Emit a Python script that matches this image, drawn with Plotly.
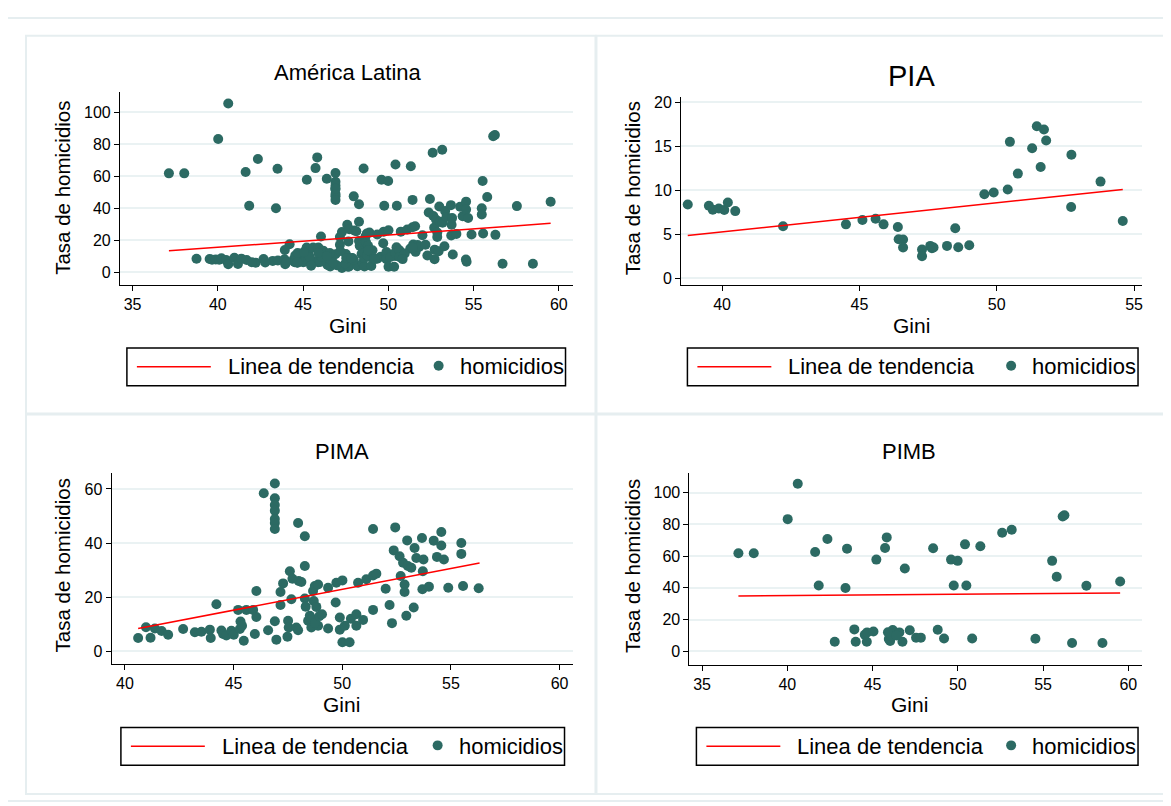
import plotly.graph_objects as go

# ---------------- data ----------------
pia_gini = [38.75, 39.52, 39.66, 39.88, 40.08, 40.21, 40.48, 42.22, 44.51, 45.11,
            45.59, 45.88, 46.40, 46.43, 46.59, 46.59, 47.28, 47.28, 47.58, 47.64,
            47.70, 48.19, 48.49, 48.60, 49.00, 49.55, 49.89, 50.40, 50.48, 50.77,
            51.29, 51.46, 51.72, 51.60, 51.80, 52.72, 52.71, 53.78, 54.59]
pia_hom = [8.38, 8.23, 7.77, 7.92, 7.74, 8.60, 7.62, 5.89, 6.11, 6.60,
           6.75, 6.11, 5.81, 4.42, 4.38, 3.47, 3.25, 2.49, 3.66, 3.40,
           3.47, 3.66, 5.66, 3.51, 3.74, 9.55, 9.74, 10.08, 15.51, 11.89,
           14.79, 17.28, 16.91, 12.64, 15.66, 14.04, 8.08, 10.98, 6.49]

pima_gini = [40.61, 40.97, 41.18, 41.38, 41.69, 41.99, 42.68, 43.22, 43.52, 43.91,
             43.95, 44.21, 44.44, 44.52, 44.67, 44.90, 45.01, 45.21, 45.29, 45.32,
             45.39, 45.47, 45.59, 45.90, 45.98, 46.05, 46.05, 46.39, 46.59, 46.90,
             46.90, 46.90, 46.90, 46.90, 46.90, 46.90, 46.90, 46.97, 47.16, 47.16,
             47.28, 47.48, 47.51, 47.54, 47.59, 47.66, 47.71, 47.89, 47.97, 47.97,
             48.00, 48.12, 48.28, 48.28, 48.28, 48.32, 48.43, 48.51, 48.58, 48.66,
             48.69, 48.74, 48.81, 48.89, 48.89, 48.60, 48.75, 48.95, 49.07, 49.35,
             49.35, 49.70, 49.73, 49.89, 49.89, 50.01, 50.01, 50.12, 50.34, 50.40,
             50.65, 50.65, 50.73, 50.96, 51.11, 51.42, 51.42, 51.42, 51.57, 52.00,
             52.18, 52.29, 52.37, 52.44, 52.64, 52.69, 52.80, 52.87, 52.87, 52.95,
             52.99, 53.02, 53.18, 53.29, 53.33, 53.41, 53.67, 53.69, 53.71, 53.74,
             53.99, 54.21, 54.36, 54.56, 54.56, 54.68, 54.88, 55.48, 55.48, 55.56,
             56.28]
pima_hom = [4.9, 8.9, 5.0, 8.4, 7.5, 6.1, 8.2, 7.0, 7.2, 8.0,
            4.9, 17.4, 7.7, 6.4, 5.8, 7.6, 6.1, 15.3, 8.2, 11.0,
            9.4, 3.9, 15.3, 15.3, 6.4, 22.3, 12.7, 58.4, 7.8, 62.0,
            56.6, 54.1, 52.0, 48.9, 47.4, 45.2, 11.1, 4.3, 21.9, 17.1,
            25.1, 5.4, 11.3, 8.8, 29.6, 19.2, 26.8, 8.8, 47.4, 7.8,
            26.0, 25.6, 42.5, 31.5, 19.5, 16.5, 11.3, 13.1, 8.8, 22.3,
            18.6, 24.1, 16.4, 24.7, 9.4, 12.0, 10.5, 13.0, 13.7, 23.5,
            8.4, 18.0, 25.3, 12.5, 8.0, 26.2, 3.3, 9.4, 3.3, 12.0,
            13.7, 9.4, 25.3, 11.6, 26.6, 45.2, 15.3, 28.0, 28.7, 23.1,
            17.1, 10.4, 37.3, 45.8, 35.1, 27.8, 32.7, 24.7, 21.9, 13.1,
            41.0, 31.5, 30.9, 16.2, 38.2, 34.5, 41.9, 22.9, 29.6, 33.9,
            23.9, 40.9, 34.9, 44.1, 39.1, 33.9, 23.5, 40.0, 36.0, 24.1,
            23.3]

pimb_gini = [37.13, 38.03, 40.02, 40.61, 41.63, 41.84, 42.35, 42.78, 43.41, 43.50,
             43.93, 44.01, 44.54, 44.66, 44.68, 45.05, 45.22, 45.73, 45.83, 45.95,
             46.03, 46.18, 46.28, 46.57, 46.75, 46.89, 47.18, 47.55, 47.83, 48.55,
             48.82, 49.19, 49.60, 49.76, 49.99, 50.50, 50.42, 50.84, 51.32, 52.60,
             53.16, 54.55, 55.53, 55.80, 56.15, 56.25, 56.70, 57.54, 58.48, 59.52,
             46.10, 45.90, 46.40]
pimb_hom = [61.8, 61.8, 83.3, 105.6, 62.6, 41.5, 70.8, 6.05, 39.9, 64.7,
            13.8, 6.05, 10.4, 6.05, 11.9, 12.5, 57.8, 65.1, 71.8, 7.7,
            6.5, 13.4, 11.9, 11.9, 6.05, 52.2, 13.2, 8.6, 8.6, 64.9,
            13.6, 8.1, 57.8, 41.5, 57.0, 41.5, 67.4, 8.1, 66.2, 74.7,
            76.6, 7.9, 57.0, 47.0, 85.0, 85.8, 5.2, 41.3, 5.2, 44.0,
            9.5, 12.0, 10.0]

# América Latina = all three groups together
al_gini = pia_gini + pima_gini + pimb_gini
al_hom = pia_hom + pima_hom + pimb_hom

# trend lines (end points)
al_trend_x, al_trend_y = [37.13, 59.52], [13.3, 30.5]
pia_trend_x, pia_trend_y = [38.75, 54.59], [4.83, 10.08]
pima_trend_x, pima_trend_y = [40.61, 56.32], [8.45, 32.6]
pimb_trend_x, pimb_trend_y = [37.13, 59.52], [34.9, 36.7]

titles = ["América Latina", "PIA", "PIMA", "PIMB"]
x_ticks = [[35, 40, 45, 50, 55, 60], [40, 45, 50, 55], [40, 45, 50, 55, 60], [35, 40, 45, 50, 55, 60]]
y_ticks = [[0, 20, 40, 60, 80, 100], [0, 5, 10, 15, 20], [0, 20, 40, 60], [0, 20, 40, 60, 80, 100]]
y_title = "Tasa de homicidios"
x_title = "Gini"
legend_line = "Linea de tendencia"
legend_dot = "homicidios"

# ---------------- layout helpers ----------------
OFF = 8                      # page body margin of the html page
W, H = 1171 - OFF, 806 - OFF
FONT = "Liberation Sans, Arial, sans-serif"
DOT = "#2C6A63"
GRID = "#EAF2F3"
FRAME = "#E6EEF0"


def fx(p):
    return (p - OFF) / W


def fy(p):
    return 1 - (p - OFF) / H


panels = [
    dict(xa=(35, 132.7), xb=(60, 559.3), ya=(0, 270.7), yb=(100, 110.0), xd=(120, 573), yd=(90, 283.3),
         title_xy=(348, 70), tsize=22, gini_xy=(348, 324), ytit_xy=(63, 186),
         box=(127, 347, 566, 385)),
    dict(xa=(40, 722.7), xb=(55, 1135.0), ya=(0, 276.7), yb=(20, 100.0), xd=(681.7, 1143), yd=(95, 283.3),
         title_xy=(912, 73), tsize=29, gini_xy=(912, 324), ytit_xy=(633, 186),
         box=(688, 347, 1139, 385)),
    dict(xa=(40, 125.0), xb=(60, 560.0), ya=(0, 652.3), yb=(60, 489.0), xd=(111.7, 573), yd=(473, 665),
         title_xy=(342, 451), tsize=22, gini_xy=(342, 706), ytit_xy=(63, 566),
         box=(121, 729, 565, 767)),
    dict(xa=(35, 702.7), xb=(60, 1129.3), ya=(0, 652.3), yb=(100, 492.7), xd=(690, 1143), yd=(473, 665.7),
         title_xy=(910, 451), tsize=22, gini_xy=(910, 706), ytit_xy=(633, 566),
         box=(697, 729, 1139, 767)),
]

series = [(al_gini, al_hom, al_trend_x, al_trend_y),
          (pia_gini, pia_hom, pia_trend_x, pia_trend_y),
          (pima_gini, pima_hom, pima_trend_x, pima_trend_y),
          (pimb_gini, pimb_hom, pimb_trend_x, pimb_trend_y)]

fig = go.Figure()
layout = dict(width=W, height=H, autosize=False, margin=dict(l=0, r=0, t=0, b=0),
              paper_bgcolor="white", plot_bgcolor="white", showlegend=False,
              font=dict(family=FONT, color="black"))
annotations = []
shapes = []

# frames
shapes.append(dict(type="rect", xref="paper", yref="paper", x0=fx(7), x1=fx(1190), y0=fy(15), y1=fy(803),
                   line=dict(color=FRAME, width=2), layer="below"))
for (a, b, c, d) in [(26, 33, 596, 413), (597, 33, 1168, 413), (26, 414, 596, 796), (597, 414, 1168, 796)]:
    shapes.append(dict(type="rect", xref="paper", yref="paper", x0=fx(a), x1=fx(c), y0=fy(b), y1=fy(d),
                       line=dict(color=FRAME, width=2), layer="below"))

for i, (p, (gx, gy, tx, ty)) in enumerate(zip(panels, series)):
    n = "" if i == 0 else str(i + 1)
    (xv0, xp0), (xv1, xp1) = p["xa"], p["xb"]
    sx = (xv1 - xv0) / (xp1 - xp0)
    xr = [xv0 + (p["xd"][0] - xp0) * sx, xv0 + (p["xd"][1] - xp0) * sx]
    (yv0, yp0), (yv1, yp1) = p["ya"], p["yb"]
    sy = (yv1 - yv0) / (yp1 - yp0)
    yr = [yv0 + (p["yd"][1] - yp0) * sy, yv0 + (p["yd"][0] - yp0) * sy]

    common = dict(showline=True, linecolor="black", linewidth=1, ticks="outside", ticklen=5,
                  tickwidth=1, tickcolor="black", zeroline=False, fixedrange=True,
                  tickfont=dict(family=FONT, size=16, color="black"))
    layout["xaxis" + n] = dict(common, domain=[fx(p["xd"][0]), fx(p["xd"][1])], range=xr,
                               anchor="y" + n, showgrid=False, tickvals=x_ticks[i])
    layout["yaxis" + n] = dict(common, domain=[fy(p["yd"][1]), fy(p["yd"][0])], range=yr,
                               anchor="x" + n, showgrid=True, gridcolor=GRID, gridwidth=2,
                               tickvals=y_ticks[i], tickangle=0)

    fig.add_trace(go.Scatter(x=gx, y=gy, mode="markers", xaxis="x" + n, yaxis="y" + n,
                             marker=dict(color=DOT, size=10, line=dict(width=0)), name=legend_dot))
    fig.add_trace(go.Scatter(x=tx, y=ty, mode="lines", xaxis="x" + n, yaxis="y" + n,
                             line=dict(color="red", width=1.5), name=legend_line))

    annotations.append(dict(text=titles[i], x=fx(p["title_xy"][0]), y=fy(p["title_xy"][1]),
                            xref="paper", yref="paper", showarrow=False, xanchor="center", yanchor="middle",
                            font=dict(family=FONT, size=p["tsize"], color="black")))
    annotations.append(dict(text=x_title, x=fx(p["gini_xy"][0]), y=fy(p["gini_xy"][1]),
                            xref="paper", yref="paper", showarrow=False, xanchor="center", yanchor="middle",
                            font=dict(family=FONT, size=21, color="black")))
    annotations.append(dict(text=y_title, x=fx(p["ytit_xy"][0]), y=fy(p["ytit_xy"][1]), textangle=-90,
                            xref="paper", yref="paper", showarrow=False, xanchor="center", yanchor="middle",
                            font=dict(family=FONT, size=20.5, color="black")))

    bx0, by0, bx1, by1 = p["box"]
    cy = (by0 + by1) / 2
    shapes.append(dict(type="rect", xref="paper", yref="paper", x0=fx(bx0), x1=fx(bx1), y0=fy(by0), y1=fy(by1),
                       line=dict(color="black", width=1.5), fillcolor="white"))
    shapes.append(dict(type="line", xref="paper", yref="paper", x0=fx(bx0 + 10), x1=fx(bx0 + 84),
                       y0=fy(cy), y1=fy(cy), line=dict(color="red", width=1.5)))
    annotations.append(dict(text=legend_line, x=fx(bx0 + 99), y=fy(cy), xref="paper", yref="paper",
                            showarrow=False, xanchor="left", yanchor="middle",
                            font=dict(family=FONT, size=22, color="black")))
    mx = bx1 - 127
    shapes.append(dict(type="circle", xref="paper", yref="paper", x0=fx(mx - 5), x1=fx(mx + 5),
                       y0=fy(cy - 6), y1=fy(cy + 4), line=dict(width=0), fillcolor=DOT))
    annotations.append(dict(text=legend_dot, x=fx(mx + 19), y=fy(cy), xref="paper", yref="paper",
                            showarrow=False, xanchor="left", yanchor="middle",
                            font=dict(family=FONT, size=22, color="black")))

layout["annotations"] = annotations
layout["shapes"] = shapes
fig.update_layout(**layout)
fig.write_html("out.html")
